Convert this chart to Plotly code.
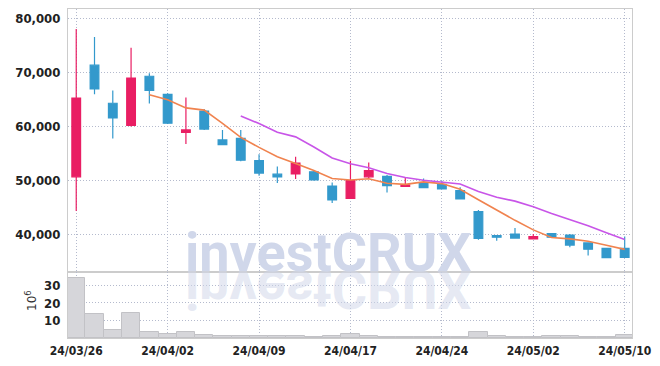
import plotly.graph_objects as go
import pandas as pd

dates = ["24/03/26", "24/03/27", "24/03/28", "24/03/29", "24/04/01", "24/04/02", "24/04/03",
         "24/04/04", "24/04/05", "24/04/08", "24/04/09", "24/04/11", "24/04/12", "24/04/15",
         "24/04/16", "24/04/17", "24/04/18", "24/04/19", "24/04/22", "24/04/23", "24/04/24",
         "24/04/25", "24/04/26", "24/04/29", "24/04/30", "24/05/02", "24/05/03", "24/05/07",
         "24/05/08", "24/05/09", "24/05/10"]

open_p = [50600, 71300, 64250, 60150, 69250, 65900, 58850, 62800, 57450, 57750, 53600,
          51100, 51150, 51550, 48900, 46600, 50600, 50700, 48850, 49550, 49200, 48050,
          44150, 39700, 40000, 39100, 40100, 39800, 38350, 37350, 37350]
high_p = [78000, 76550, 66600, 74550, 69800, 66100, 65300, 63200, 59300, 59300, 54800,
          52500, 54350, 51700, 49550, 53600, 53250, 50950, 50500, 50300, 49900, 48650,
          44450, 39750, 41100, 40000, 40150, 40000, 38400, 37400, 39550]
low_p = [44250, 65900, 57700, 59950, 64200, 60400, 56700, 59300, 56500, 53500, 50800,
         49450, 50200, 49900, 45750, 46500, 50350, 47700, 48700, 48550, 48300, 46450,
         38950, 38750, 39200, 39000, 39350, 37550, 36000, 35600, 35650]
close_p = [65200, 66900, 61550, 68900, 66650, 60550, 59300, 59450, 56550, 53700, 51300,
           50600, 53150, 50050, 46350, 49900, 51750, 48950, 49100, 48600, 48350, 46500,
           39200, 39400, 39250, 39500, 39400, 37950, 37200, 35600, 35650]
volume_millions = [34.4, 13.7, 4.8, 14.1, 3.3, 2.1, 3.3, 1.5, 1.0, 1.0, 0.9, 0.9, 0.9, 0.5,
                   0.9, 2.2, 1.0, 0.5, 0.4, 0.4, 0.4, 0.5, 3.3, 1.0, 0.8, 0.4, 0.9, 0.9,
                   0.8, 0.8, 1.5]

tick_dates = ["24/03/26", "24/04/02", "24/04/09", "24/04/17", "24/04/24", "24/05/02", "24/05/10"]
price_ticks = [40000, 50000, 60000, 70000, 80000]
vol_ticks = [10, 20, 30]

closes = pd.Series(close_p)
ma5 = closes.rolling(5).mean()
ma10 = closes.rolling(10).mean()

RED = "#e91e63"
BLUE = "#3399cc"
GRID = "#b4bacd"
FRAME = "#cccccc"
FAMILY = "Liberation Sans Narrow, DejaVu Sans Condensed, Roboto, sans-serif"
YFONT = dict(family=FAMILY, size=13, color="#222222", weight="bold")
XFONT = dict(family=FAMILY, size=12, color="#222222", weight="bold")

fig = go.Figure()
fig.add_trace(go.Candlestick(
    x=dates, open=open_p, high=high_p, low=low_p, close=close_p,
    increasing=dict(fillcolor=RED, line=dict(color=RED, width=1.2)),
    decreasing=dict(fillcolor=BLUE, line=dict(color=BLUE, width=1.2)),
    whiskerwidth=0, xaxis="x", yaxis="y", showlegend=False, hoverinfo="skip"))
fig.add_trace(go.Scatter(x=dates, y=ma5, mode="lines",
                         line=dict(color="#f0834f", width=1.6), xaxis="x", yaxis="y",
                         showlegend=False, hoverinfo="skip"))
fig.add_trace(go.Scatter(x=dates, y=ma10, mode="lines",
                         line=dict(color="#c855e8", width=1.6), xaxis="x", yaxis="y",
                         showlegend=False, hoverinfo="skip"))
fig.add_trace(go.Bar(x=dates, y=volume_millions, xaxis="x2", yaxis="y2",
                     marker=dict(color="#d6d6da", line=dict(color="#c2c2c6", width=1)),
                     showlegend=False, hoverinfo="skip"))

split = 66 / 329
axis_common = dict(showgrid=True, gridcolor=GRID, griddash="1px,2px", gridwidth=1,
                   showline=True, linecolor=FRAME, linewidth=1, mirror=True,
                   zeroline=False, ticks="", automargin=False)

wm_font = dict(family="Roboto, sans-serif", size=54, color="#d0d7ea", weight="bold",
               style="normal")
wm_x = (328.5 - 68) / 564

fig.update_layout(
    width=660, height=366,
    margin=dict(l=68, r=28, t=9, b=28),
    paper_bgcolor="white", plot_bgcolor="white",
    showlegend=False,
    boxgap=0.32, bargap=0,
    xaxis=dict(type="category", range=[-0.45, 30.4], domain=[0, 1], anchor="y",
               tickvals=tick_dates, showticklabels=False, rangeslider=dict(visible=False),
               tickfont=XFONT, **axis_common),
    xaxis2=dict(type="category", range=[-0.45, 30.4], domain=[0, 1], anchor="y2",
                matches="x", tickvals=tick_dates, ticktext=tick_dates,
                ticklabelstandoff=2, tickfont=XFONT, **axis_common),
    yaxis=dict(domain=[split, 1], range=[32960, 81720], tickvals=price_ticks,
               tickformat=",d", ticklabelstandoff=4, anchor="x", tickfont=YFONT,
               **axis_common),
    yaxis2=dict(domain=[0, split], range=[0, 37.7], tickvals=vol_ticks,
                ticklabelstandoff=4, anchor="x2", tickfont=YFONT, **axis_common),
    annotations=[
        dict(text="investCRUX", x=wm_x, y=split, xref="paper", yref="paper",
             xanchor="center", yanchor="bottom", yshift=-14, showarrow=False, font=wm_font),
        dict(text="investCRUX", x=wm_x, y=split, xref="paper", yref="paper",
             xanchor="center", yanchor="bottom", yshift=-14, showarrow=False,
             font=dict(wm_font, color="rgba(208,215,234,0.55)")),
        dict(text="10<sup>6</sup>", x=(31 - 68) / 564, y=(338 - 301) / 329,
             xref="paper", yref="paper", xanchor="center", yanchor="middle",
             textangle=-90, showarrow=False,
             font=dict(family="DejaVu Sans, sans-serif", size=12, color="#333333")),
    ],
)

post = """
document.body.style.margin = '0';
document.body.style.padding = '0';
var gd = document.getElementById('{plot_id}');
var t = gd.querySelector('g.annotation[data-index="1"] text.annotation-text');
if (t) {
  var y = parseFloat(t.getAttribute('y')) || 0;
  t.setAttribute('transform', 'translate(0,' + (2 * y) + ') scale(1,-1)');
}
"""

fig.write_html("out.html", post_script=post, config={"displayModeBar": False})
